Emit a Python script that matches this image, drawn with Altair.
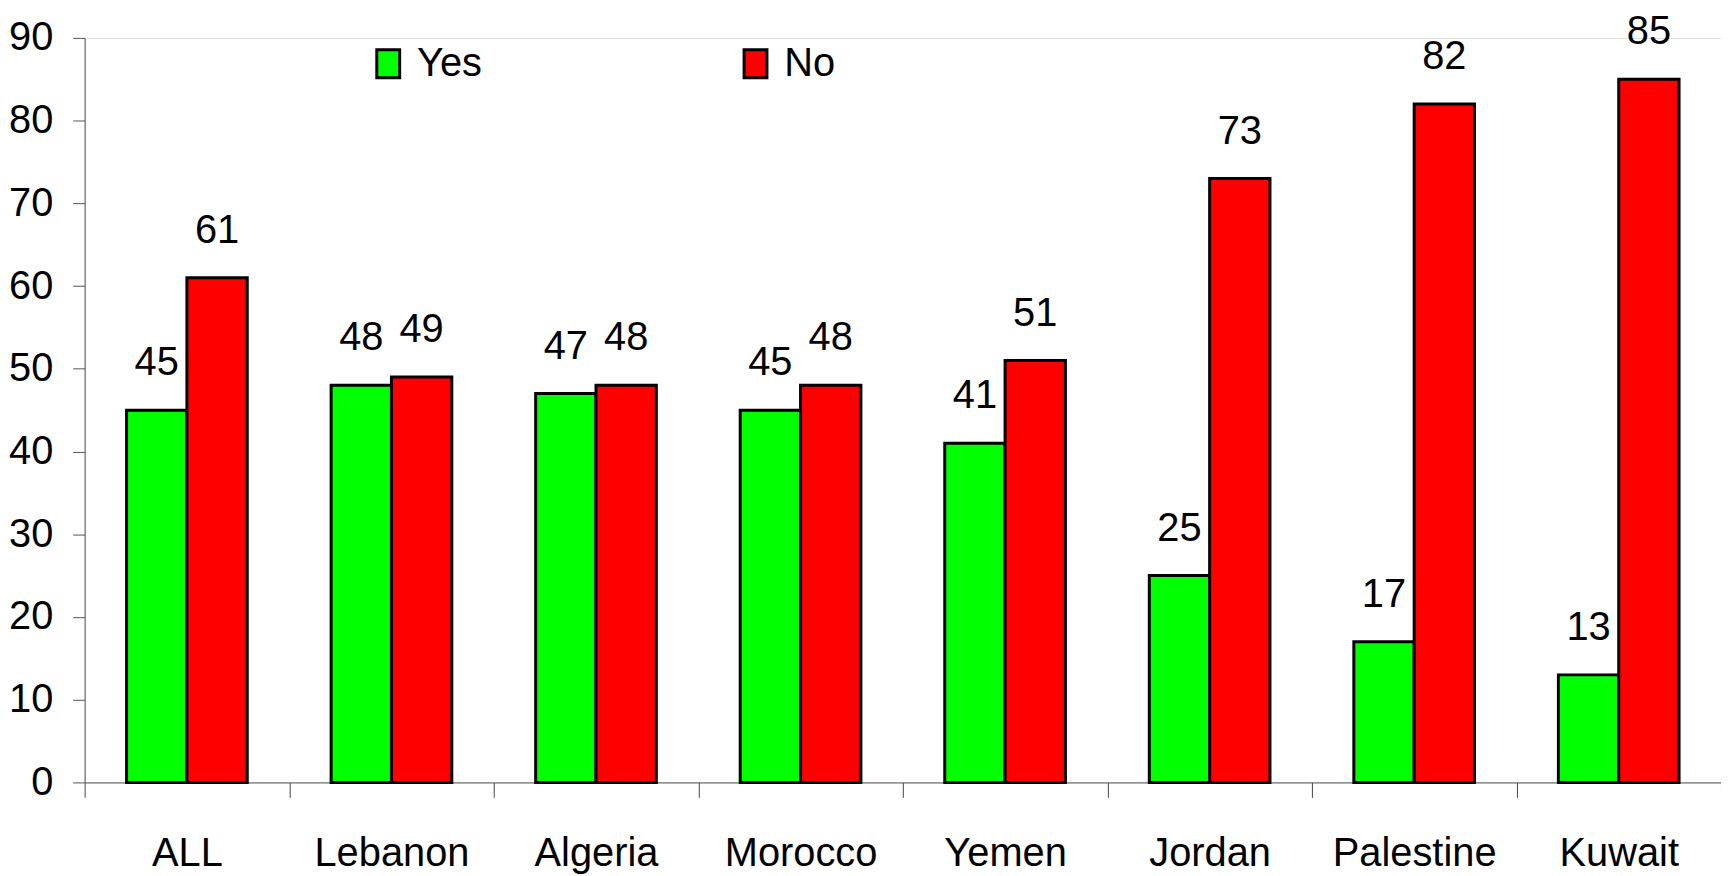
import altair as alt
import pandas as pd

countries = ["ALL", "Lebanon", "Algeria", "Morocco", "Yemen", "Jordan", "Palestine", "Kuwait"]
yes_values = [45, 48, 47, 45, 41, 25, 17, 13]
no_values = [61, 49, 48, 48, 51, 73, 82, 85]
series = ["Yes", "No"]
colors = ["#00FF00", "#FF0000"]
y_ticks = [0, 10, 20, 30, 40, 50, 60, 70, 80, 90]

rows = []
for c, y, n in zip(countries, yes_values, no_values):
    rows.append({"Country": c, "Series": "Yes", "Value": y})
    rows.append({"Country": c, "Series": "No", "Value": n})
df = pd.DataFrame(rows)

FONT = "Liberation Sans Narrow, Arial Narrow, Liberation Sans, Arial, sans-serif"
FS = 40

x = alt.X("Country:N", sort=countries, title=None,
          scale=alt.Scale(paddingInner=0, paddingOuter=0),
          axis=alt.Axis(labelAngle=0, labelFontSize=FS, labelFont=FONT, labelColor="black",
                        tickBand="extent", tickSize=15, tickColor="#444", domainColor="#555",
                        labelPadding=36, labelBaseline="top", labelLimit=0,
                        labelOverlap=False, grid=False))
xoff_scale = alt.Scale(paddingInner=0, paddingOuter=0.695)
xoff = alt.XOffset("Series:N", sort=series, scale=xoff_scale)
y = alt.Y("Value:Q", title=None,
          scale=alt.Scale(domain=[0, 90], nice=False, zero=True),
          axis=alt.Axis(values=y_ticks, labelFontSize=FS, labelFont=FONT, labelColor="black",
                        tickSize=12, tickColor="#555", domainColor="#555", labelPadding=20,
                        grid=False))
color = alt.Color("Series:N", sort=series,
                  scale=alt.Scale(domain=series, range=colors),
                  legend=alt.Legend(title=None, orient="none", direction="horizontal",
                                    legendX=285, legendY=6, padding=0,
                                    symbolType="M-0.82,-1H0.82V1H-0.82Z",
                                    symbolSize=784, symbolStrokeColor="black",
                                    symbolStrokeWidth=3, symbolOpacity=1,
                                    labelFontSize=FS, labelFont=FONT, labelColor="black",
                                    labelOffset=9, columnPadding=254, labelLimit=400))

bars = alt.Chart(df).mark_bar(stroke="black", strokeWidth=3, opacity=1).encode(
    x=x, xOffset=xoff, y=y, color=color
)
labels = alt.Chart(df).mark_text(fontSize=FS, font=FONT, color="black",
                                 baseline="alphabetic", dy=-35).encode(
    x=alt.X("Country:N", sort=countries),
    xOffset=alt.XOffset("Series:N", sort=series),
    y=alt.Y("Value:Q"),
    text=alt.Text("Value:Q"),
)

chart = (bars + labels).properties(
    width=1644, height=748,
    autosize=alt.AutoSizeParams(type="none"),
    padding={"left": 77, "top": 28, "right": 0, "bottom": 92},
).configure_view(stroke=None).configure(background="white")

chart.save("out.html", embed_options={"renderer": "svg", "actions": False})
